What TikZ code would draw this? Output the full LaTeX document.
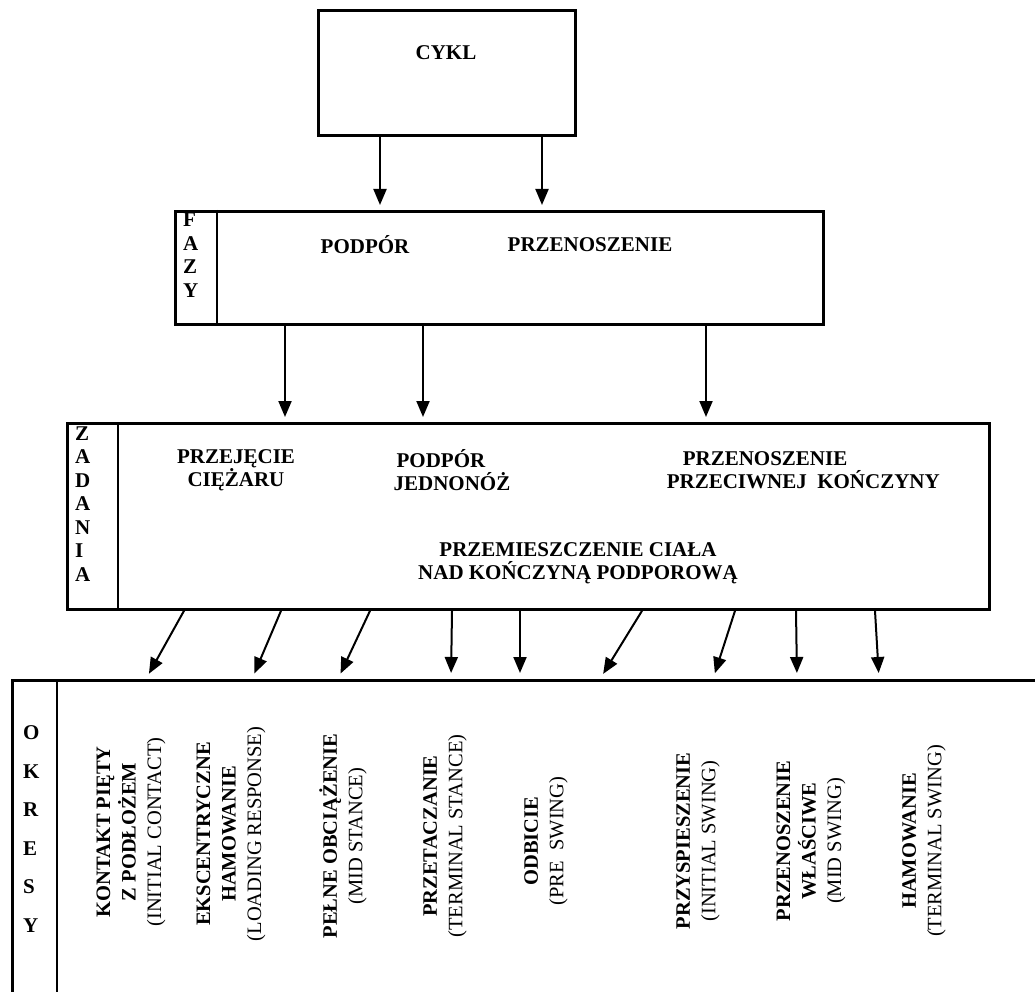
\documentclass[tikz,border=0pt]{standalone}
\usepackage{fontspec}
\setmainfont{Liberation Serif}
\usetikzlibrary{arrows.meta}
\begin{document}
\begin{tikzpicture}[x=1pt,y=-1pt,
    box/.style={draw,line width=2.8pt,anchor=north west,inner sep=0pt},
    lbl/.style={font=\fontsize{21}{23.5}\selectfont\bfseries,align=center,inner sep=0pt},
    letters/.style={lbl,align=left,anchor=west},
    period/.style={rotate=90,align=center,inner sep=0pt,font=\fontsize{20.5}{25.5}\selectfont},
    arrow/.style={-{Triangle[length=16pt,width=13pt]},line width=2pt,shorten >=5pt}]
        \useasboundingbox (0,0) rectangle (1035,992);
        \clip (0,0) rectangle (1035,992);
        \node [box,minimum width=257,minimum height=125] (cykl) at (317,9) {};
        \node [box,minimum width=648,minimum height=113] (fazy) at (174,210) {};
        \node [box,minimum width=922,minimum height=186] (zadania) at (66,422) {};
        \node [box,minimum width=1040,minimum height=330] (okresy) at (11,679) {};
        \draw [line width=2.8pt] ([xshift=43]fazy.north west) -- ([xshift=43]fazy.south west);
        \draw [line width=2.8pt] ([xshift=52]zadania.north west) -- ([xshift=52]zadania.south west);
        \draw [line width=2.8pt] ([xshift=46]okresy.north west) -- ([xshift=46]okresy.south west);
        \node [lbl] (cykltxt) at (446,53) {CYKL};
        \node [letters] (fazytxt) at (183,255) {F\\A\\Z\\Y};
        \node [lbl] (podpor) at (365,245) {PODPÓR};
        \node [lbl] (przen) at (590,245) {PRZENOSZENIE};
        \node [letters] (zadtxt) at (75,504) {Z\\A\\D\\A\\N\\I\\A};
        \node [lbl] (przejecie) at (236,470) {PRZEJĘCIE\\CIĘŻARU};
        \node [lbl,align=left] (jednonoz) at (452,470) {\hspace*{3pt}PODPÓR\\JEDNONÓŻ};
        \node [lbl,align=left,anchor=east] (przeciwnej) at (940,470) {\hspace*{16pt}PRZENOSZENIE\\PRZECIWNEJ~~KOŃCZYNY};
        \node [lbl] (cialo) at (578,563) {PRZEMIESZCZENIE CIAŁA\\NAD KOŃCZYNĄ PODPOROWĄ};
        \node [letters,font=\fontsize{21}{38.6}\selectfont\bfseries] (okrtxt) at (23,829) {O\\K\\R\\E\\S\\Y};
        \node [period] (kontakt) at (131,832) {\textbf{KONTAKT PIĘTY}\\\textbf{Z PODŁOŻEM}\\(INITIAL CONTACT)};
        \node [period] (ekscentr) at (231,834) {\textbf{EKSCENTRYCZNE}\\\textbf{HAMOWANIE}\\(LOADING RESPONSE)};
        \node [period] (pelne) at (343,836) {\textbf{PEŁNE OBCIĄŻENIE}\\(MID STANCE)};
        \node [period] (przetacz) at (445,836) {\textbf{PRZETACZANIE}\\(TERMINAL STANCE)};
        \node [period] (odbicie) at (546,841) {\textbf{ODBICIE}\\(PRE~~SWING)};
        \node [period] (przysp) at (698,841) {\textbf{PRZYSPIESZENIE}\\(INITIAL SWING)};
        \node [period] (wlasciwe) at (811,841) {\textbf{PRZENOSZENIE}\\\textbf{WŁAŚCIWE}\\(MID SWING)};
        \node [period] (hamowanie) at (924,841) {\textbf{HAMOWANIE}\\(TERMINAL SWING)};
        \foreach \x in {380,542} \draw [arrow] (\x,0 |- cykl.south) -- (\x,0 |- fazy.north);
        \foreach \x in {285,423,706} \draw [arrow] (\x,0 |- fazy.south) -- (\x,0 |- zadania.north);
        \foreach \a/\b in {184/146,281/252,370/338,452/451,520/520,642/600,735/713,796/797,875/879}
            \draw [arrow,shorten >=6pt] (\a,0 |- zadania.south) -- (\b,0 |- okresy.north);
    \end{tikzpicture}
\end{document}
